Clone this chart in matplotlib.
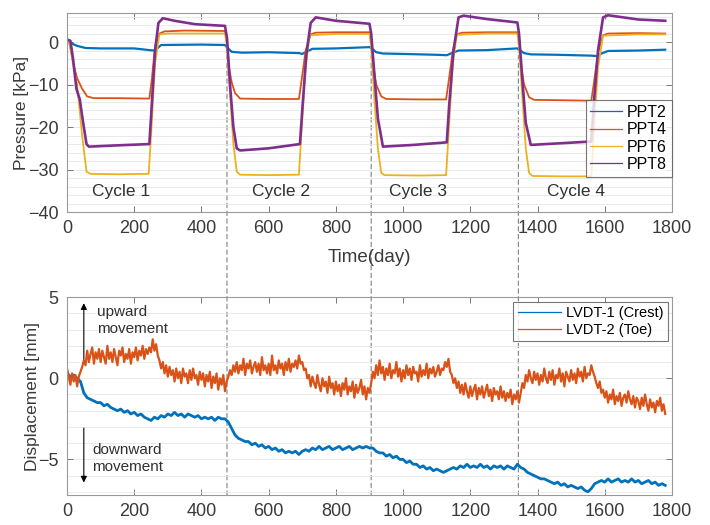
import numpy as np
import matplotlib.pyplot as plt
from matplotlib.patches import ConnectionPatch
from matplotlib.ticker import MultipleLocator

plt.rcParams['font.family'] = ['Liberation Sans', 'DejaVu Sans']

# Presion de poros (kPa) en cada transductor
ppt2_t = [0, 10, 30, 55, 100, 200, 245, 260, 270, 280, 400, 470, 478, 490, 520, 600, 690, 700, 715, 730,
          800, 900, 907, 920, 940, 1000, 1100, 1130, 1145, 1165, 1250, 1340, 1345, 1360, 1380, 1460, 1560,
          1575, 1590, 1610, 1700, 1780]
ppt2_p = [0.2, -0.2, -0.9, -1.4, -1.5, -1.5, -1.9, -2.0, -1.4, -0.7, -0.6, -0.7, -1.4, -2.3, -2.5, -2.4, -2.6,
          -2.8, -2.2, -1.6, -1.5, -1.2, -1.5, -2.4, -2.7, -2.8, -3.0, -3.1, -2.6, -2.0, -1.9, -1.5, -1.8, -2.6,
          -2.9, -3.0, -3.2, -3.3, -2.7, -2.1, -2.0, -1.8]

ppt4_t = [0, 8, 20, 30, 45, 60, 80, 150, 245, 252, 262, 275, 290, 350, 470, 476, 482, 490, 500, 515, 600, 690,
          698, 710, 725, 740, 800, 900, 905, 912, 920, 935, 950, 1050, 1128, 1136, 1148, 1160, 1175, 1250, 1340,
          1345, 1352, 1360, 1375, 1390, 1480, 1560, 1568, 1580, 1595, 1610, 1700, 1780]
ppt4_p = [0.3, -0.5, -5.5, -8.5, -11.0, -12.8, -13.2, -13.2, -13.3, -9.0, -1.0, 2.0, 2.5, 2.7, 2.6, 0.0, -6.0,
          -9.5, -12.0, -13.3, -13.4, -13.4, -9.0, -2.0, 1.8, 2.2, 2.3, 2.3, 0.5, -6.0, -10.0, -12.8, -13.4,
          -13.5, -13.5, -9.0, -2.0, 1.8, 2.2, 2.3, 2.3, 0.5, -6.0, -10.0, -13.0, -13.6, -13.7, -13.8, -9.5,
          -2.5, 1.6, 2.0, 2.1, 2.0]

ppt6_t = [0, 8, 20, 30, 45, 58, 70, 150, 243, 250, 262, 275, 300, 470, 476, 485, 495, 505, 515, 600, 690, 697,
          710, 722, 800, 900, 905, 915, 925, 935, 945, 1050, 1128, 1135, 1148, 1160, 1250, 1340, 1345, 1355,
          1365, 1375, 1385, 1480, 1560, 1567, 1580, 1595, 1700, 1780]
ppt6_p = [0.3, -0.5, -6.0, -10.0, -22.0, -30.5, -31.0, -31.1, -31.0, -22.0, -5.0, 1.8, 2.0, 2.0, -1.0, -12.0,
          -24.0, -30.5, -31.2, -31.3, -31.2, -22.0, -6.0, 1.6, 1.9, 1.9, -1.0, -14.0, -25.0, -30.8, -31.3,
          -31.4, -31.3, -22.0, -5.0, 1.7, 2.0, 2.0, -1.0, -13.0, -25.0, -30.8, -31.5, -31.6, -31.6, -22.0,
          -6.0, 1.5, 1.8, 1.8]

ppt8_t = [0, 10, 18, 28, 38, 48, 58, 65, 150, 245, 252, 262, 272, 285, 320, 380, 470, 476, 485, 495, 505, 515,
          600, 693, 700, 712, 725, 740, 800, 900, 905, 915, 925, 940, 1030, 1130, 1137, 1150, 1165, 1180, 1250,
          1340, 1345, 1355, 1365, 1380, 1470, 1560, 1567, 1580, 1595, 1610, 1700, 1780]
ppt8_p = [0.6, 0.3, -4.0, -11.0, -13.5, -19.0, -24.0, -24.6, -24.3, -24.0, -15.0, -2.0, 4.5, 5.6, 5.0, 4.2,
          3.8, 1.0, -10.0, -20.0, -25.0, -25.5, -25.0, -24.0, -16.0, -3.0, 4.5, 5.8, 5.0, 4.3, 2.0, -8.0,
          -18.0, -24.6, -24.2, -23.6, -15.0, -2.0, 5.8, 6.2, 5.4, 4.6, 2.0, -9.0, -19.0, -24.2, -23.8, -23.4,
          -15.0, -2.0, 5.8, 6.3, 5.3, 5.0]

# Desplazamiento en la cresta (mm), lectura cada 10 dias
lvdt1_t = np.arange(0, 1790, 10)
lvdt1 = [0.3, 0.1, 0.2, 0.0, -0.2, -0.9, -1.2, -1.3, -1.4, -1.5,
         -1.5, -1.7, -1.6, -1.8, -1.9, -2.0, -1.9, -2.1, -2.0, -2.2,
         -2.1, -2.3, -2.2, -2.4, -2.5, -2.6, -2.4, -2.5, -2.3, -2.4,
         -2.2, -2.3, -2.1, -2.3, -2.2, -2.4, -2.2, -2.3, -2.4, -2.3,
         -2.5, -2.4, -2.5, -2.4, -2.6, -2.4, -2.5, -2.5, -2.7, -3.1,
         -3.5, -3.7, -3.8, -3.9, -3.9, -4.1, -4.0, -4.2, -4.1, -4.3,
         -4.2, -4.4, -4.3, -4.5, -4.4, -4.6, -4.5, -4.6, -4.5, -4.7,
         -4.5, -4.4, -4.5, -4.3, -4.4, -4.2, -4.4, -4.3, -4.2, -4.4,
         -4.3, -4.2, -4.4, -4.3, -4.2, -4.4, -4.3, -4.2, -4.3, -4.2,
         -4.3, -4.3, -4.5, -4.6, -4.6, -4.8, -4.7, -4.9, -4.8, -5.0,
         -5.0, -5.2, -5.1, -5.3, -5.3, -5.5, -5.4, -5.6, -5.5, -5.7,
         -5.6, -5.7, -5.8, -5.7, -5.6, -5.5, -5.6, -5.4, -5.5, -5.3,
         -5.5, -5.4, -5.5, -5.3, -5.5, -5.4, -5.6, -5.4, -5.5, -5.4,
         -5.6, -5.4, -5.5, -5.6, -5.3, -5.5, -5.6, -5.8, -5.9, -6.0,
         -6.1, -6.2, -6.2, -6.3, -6.4, -6.5, -6.4, -6.6, -6.5, -6.7,
         -6.6, -6.7, -6.8, -6.7, -6.9, -7.0, -6.8, -6.5, -6.4, -6.3,
         -6.4, -6.2, -6.4, -6.3, -6.2, -6.4, -6.3, -6.4, -6.2, -6.4,
         -6.3, -6.5, -6.4, -6.3, -6.5, -6.4, -6.6, -6.5, -6.6]

# Desplazamiento en el pie (mm), lectura cada 5 dias
lvdt2_t = np.arange(0, 1785, 5)
lvdt2 = [0.6, 0.1, -0.4, 0.3, -0.2, 0.2, -0.5, 0.1, 0.4, 0.7,
         1.1, 0.8, 1.7, 1.0, 1.5, 1.9, 0.9, 1.6, 1.2, 1.8,
         1.0, 1.7, 1.3, 0.9, 2.0, 1.2, 1.6, 1.0, 1.8, 1.3,
         0.8, 1.7, 1.4, 1.9, 1.0, 1.5, 1.2, 1.8, 0.9, 1.6,
         1.3, 1.9, 1.1, 1.7, 1.4, 2.0, 1.2, 1.8, 1.5, 1.9,
         1.6, 2.4, 1.7, 2.1, 1.4, 1.1, 0.6, 1.0, 0.3, 0.8,
         0.1, 0.7, 0.2, 0.5, -0.2, 0.6, 0.0, 0.4, -0.3, 0.6,
         0.1, 0.3, -0.3, 0.5, -0.1, 0.6, 0.0, 0.2, -0.4, 0.4,
         -0.1, 0.3, -0.5, 0.2, -0.2, 0.4, -0.6, 0.1, -0.3, 0.3,
         -0.7, 0.0, -0.4, 0.2, -0.8, -0.2, 0.1, 0.5, 0.2, 0.8,
         0.4, 1.0, 0.3, 0.8, 0.5, 1.2, 0.2, 0.9, 0.6, 1.1,
         0.3, 0.7, 1.0, 0.4, 0.9, 0.2, 1.3, 0.5, 0.8, 0.3,
         0.9, 0.2, 1.4, 0.5, 0.8, 0.3, 1.1, 0.6, 0.9, 0.2,
         1.0, 0.5, 1.2, 0.4, 0.9, 0.7, 1.1, 0.6, 1.4, 0.9,
         1.0, 0.5, 0.6, 0.0, 0.2, -0.5, 0.1, -0.3, -0.6, 0.2,
         -0.4, -0.8, 0.0, -0.5, -0.2, -0.9, 0.1, -0.6, -0.3, -1.0,
         -0.2, -0.8, -0.4, -1.1, -0.3, -0.7, 0.0, -1.0, -0.5, -0.8,
         -0.2, -1.2, -0.4, -0.9, -0.6, -0.1, -1.0, -0.5, -1.3, -0.6,
         -0.9, -0.3, 0.4, 0.0, 0.8, 0.2, 1.1, 0.3, 0.7, -0.1,
         0.6, 0.2, 0.9, 0.0, 0.5, 0.3, 1.0, 0.1, 0.6, -0.2,
         0.5, 0.0, 0.8, 0.2, 0.6, -0.1, 0.7, 0.3, 0.4, -0.2,
         0.8, 0.1, 0.5, 0.2, 0.9, 0.0, 0.6, 0.3, 0.7, 0.1,
         0.4, 0.8, 0.2, 0.6, 0.5, 1.0, 0.7, 1.2, 0.4, 0.2,
         -0.3, 0.0, -0.6, -0.2, -0.9, -0.4, -1.0, -0.3, -0.8, -1.2,
         -0.5, -1.1, -0.7, -0.4, -1.3, -0.6, -1.0, -0.5, -1.2, -0.8,
         -0.4, -1.1, -0.7, -1.4, -0.6, -1.0, -0.8, -1.3, -0.5, -1.2,
         -0.8, -1.4, -0.9, -1.2, -0.7, -1.6, -1.0, -1.3, -0.8, -1.5,
         -0.9, -0.3, -0.6, 0.2, -0.2, 0.5, 0.0, -0.3, 0.4, -0.1,
         0.3, -0.4, 0.2, -0.2, 0.6, 0.0, -0.3, 0.4, -0.1, 0.5,
         -0.4, 0.2, 0.0, 0.6, -0.2, 0.3, -0.5, 0.4, 0.1, -0.2,
         0.5, -0.1, 0.3, -0.3, 0.6, 0.1, 0.4, -0.2, 0.7, 0.0,
         0.3, 0.2, 0.8, 0.4, 0.1, -0.3, -0.6, -0.2, -0.9, -0.7,
         -1.2, -0.8, -1.5, -1.0, -1.3, -0.7, -1.6, -1.1, -1.4, -0.9,
         -1.7, -1.2, -1.0, -1.5, -0.8, -1.3, -1.6, -1.1, -1.8, -1.2,
         -1.4, -1.9, -1.2, -1.7, -1.0, -1.6, -2.0, -1.3, -1.8, -1.5,
         -2.1, -1.4, -1.7, -1.2, -2.0, -1.6, -2.2]

# Inicio de cada ciclo y etiquetas
dias_ciclo = [476, 905, 1343]
ciclos = ['Cycle 1', 'Cycle 2', 'Cycle 3', 'Cycle 4']
ciclos_x = [160, 637, 1043, 1514]

azul, naranja, amarillo, morado = '#0072BD', '#D95319', '#EDB120', '#7E2F8E'


def estilo(ax, ymin, ymax, paso, menor):
    ax.set_facecolor('none')
    ax.set_xlim(0, 1800)
    ax.set_ylim(ymin, ymax)
    ax.xaxis.set_major_locator(MultipleLocator(200))
    ax.yaxis.set_major_locator(MultipleLocator(paso))
    ax.yaxis.set_minor_locator(MultipleLocator(menor))
    ax.tick_params(direction='in', top=True, right=True, length=4, width=0.7,
                   color='#777777', labelsize=13, labelcolor='#3a3a3a', pad=6)
    ax.tick_params(which='minor', length=0)
    for s in ax.spines.values():
        s.set_color('#9a9a9a')
        s.set_linewidth(0.8)
    ax.grid(True, which='both', axis='y', color='#e6e6e6', lw=0.6)
    ax.set_axisbelow(True)


fig = plt.figure(figsize=(7.1, 5.25), dpi=100)
ax1 = fig.add_axes([0.0944, 0.596, 0.852, 0.379])
ax2 = fig.add_axes([0.0944, 0.057, 0.852, 0.377])

# Grafica de presiones
ax1.plot(ppt2_t, ppt2_p, color=azul, lw=1.6, label='PPT2')
ax1.plot(ppt4_t, ppt4_p, color=naranja, lw=1.3, label='PPT4')
ax1.plot(ppt6_t, ppt6_p, color=amarillo, lw=1.3, label='PPT6')
ax1.plot(ppt8_t, ppt8_p, color=morado, lw=1.9, label='PPT8')
estilo(ax1, -40, 6.8, 10, 2)
ax1.set_ylabel('Pressure [kPa]', fontsize=12.5, color='#3a3a3a', labelpad=-1)
ax1.set_xlabel('Time(day)', fontsize=13.5, color='#3a3a3a', labelpad=8)
for nombre, xc in zip(ciclos, ciclos_x):
    ax1.text(xc, -35.2, nombre, ha='center', va='center', fontsize=12.5, color='#303030')
leg1 = ax1.legend(loc='center right', bbox_to_anchor=(1.0, 0.37), fontsize=11.5, frameon=True,
                  fancybox=False, borderpad=0.3, labelspacing=0.15, handlelength=2.0,
                  handletextpad=0.3, borderaxespad=0)
leg1.get_frame().set_edgecolor('#555555')
leg1.get_frame().set_linewidth(0.8)
for h in leg1.get_lines():
    h.set_linewidth(0.9)

# Grafica de desplazamientos
ax2.plot(lvdt1_t, lvdt1, color=azul, lw=2.0, label='LVDT-1 (Crest)')
ax2.plot(lvdt2_t, lvdt2, color=naranja, lw=1.6, label='LVDT-2 (Toe)')
estilo(ax2, -7.2, 5, 5, 1)
ax2.set_ylabel('Displacement [mm]', fontsize=12.5, color='#3a3a3a', labelpad=-1)
leg2 = ax2.legend(loc='upper right', fontsize=10.5, frameon=True, fancybox=False, borderpad=0.3,
                  labelspacing=0.2, handlelength=3.0, handletextpad=0.3, borderaxespad=0.3)
leg2.get_frame().set_edgecolor('#555555')
leg2.get_frame().set_linewidth(0.8)
for h in leg2.get_lines():
    h.set_linewidth(0.9)

ax2.annotate('', xy=(50, 4.8), xytext=(50, 1.0),
             arrowprops=dict(arrowstyle='-|>', color='k', lw=0.8, mutation_scale=9))
ax2.annotate('', xy=(50, -6.6), xytext=(50, -2.9),
             arrowprops=dict(arrowstyle='-|>', color='k', lw=0.8, mutation_scale=9))
ax2.text(88, 3.55, 'upward\nmovement', ha='left', va='center', fontsize=11, color='#303030',
         linespacing=1.25)
ax2.text(74, -4.95, 'downward\nmovement', ha='left', va='center', fontsize=11, color='#303030',
         linespacing=1.25)

# Lineas de separacion entre ciclos, cruzan ambas graficas
for d in dias_ciclo:
    linea = ConnectionPatch(xyA=(d, 0.5), coordsA=ax1.transData, xyB=(d, -7.2), coordsB=ax2.transData,
                            color='#808080', lw=0.8, linestyle=(0, (4, 3)), zorder=-1)
    fig.add_artist(linea)

fig.savefig('out.png', dpi=100)
